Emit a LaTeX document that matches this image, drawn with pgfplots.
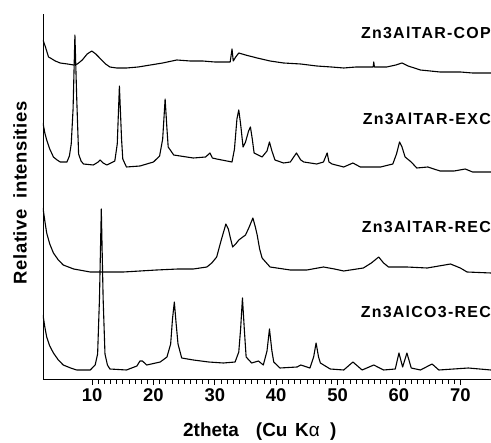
\documentclass[border=0pt]{standalone}
\usepackage{fontspec}
\setmainfont{Liberation Sans}
\newfontfamily\lsfont[LetterSpace=8]{Liberation Sans}
\newfontfamily\ylfont[LetterSpace=3]{Liberation Sans}
\usepackage{pgfplots}
\pgfplotsset{compat=1.18}
\newcommand\lf{\fontsize{18.5}{20}\selectfont\bfseries}
\newcommand\tf{\lsfont\fontsize{16}{18}\selectfont\bfseries}
\tikzset{trace/.style={black, line width=1.1bp, line join=round, mark=none}}
\begin{document}
\begin{tikzpicture}
\path[use as bounding box] (-43bp,-64bp) rectangle (448bp,379bp);
\begin{axis}[
  at={(0,0)}, anchor=south west,
  scale only axis, width=448bp, height=365bp,
  xmin=2, xmax=75, ymin=0, ymax=365,
  axis x line=bottom, axis y line=left,
  axis line style={-, line width=0.8bp},
  ytick=\empty,
  xtick={10,20,...,70},
  minor x tick num=9,
  tick align=outside,
  major tick length=6bp, minor tick length=4.5bp,
  every tick/.style={line width=0.7bp, black},
  /pgf/number format/assume math mode=true,
  xticklabel style={font=\lf},
  xlabel={2theta\hspace{0.9em}(Cu\hspace{0.4em}K{\mdseries α}\hspace{0.55em})},
  xlabel style={font=\fontsize{19}{22}\selectfont\bfseries, at={(axis description cs:0.484,-0.145)}, anchor=center},
  ylabel={\ylfont Relative\hspace{0.6em}intensities},
  ylabel style={font=\fontsize{18.5}{21}\selectfont\bfseries, at={(axis description cs:-0.0513,0.51)}, anchor=center},
]
% Zn3AlTAR-COP
\addplot[trace] coordinates {
(2,339) (2.4,332) (2.9,322) (3.2,321) (4,318) (4.8,316) (6,315) (7,314) (7.6,315) (8.4,319) (9.2,325) (9.95,328) (10.6,325) (11.4,320) (12.2,315) (12.9,312) (14,311) (15.6,311) (17.5,312) (19.5,314) (21.5,316) (23.8,319) (26,318) (28,318) (30,317) (32.5,317) (32.8,330) (33.0,318) (33.4,322) (33.9,326) (35,324) (36.9,321) (39,318) (41.2,316) (44,315) (46.6,313) (49,312) (51,311) (53,312) (55.8,312) (55.9,317) (56.0,312) (58,312) (59.5,314) (60.5,316) (61.5,313) (63.5,309) (66.7,307) (70,307) (72,306) (74.9,306) (75,306)
};
% Zn3AlTAR-EXC
\addplot[trace] coordinates {
(2,256) (2.3,246) (2.6,239) (3.1,230) (3.7,222) (4.3,219) (4.8,217) (5.9,217) (6.3,223) (6.6,235) (6.9,270) (7.2,344) (7.5,280) (7.8,225) (8.2,218) (8.6,215) (10.2,214) (11.0,217) (11.3,219) (11.8,216) (12.4,214) (13.7,218) (14.1,235) (14.45,293) (14.8,240) (15.0,220) (15.6,212) (17.8,213) (20,217) (21.0,223) (21.5,240) (21.9,280) (22.2,250) (22.4,232) (23.3,224) (25.4,222) (26.5,221) (28.5,222) (29.2,226) (29.6,221) (30.3,220) (32.8,217) (33.2,230) (33.6,260) (33.9,269) (34.2,255) (34.6,232) (35.0,237) (35.5,248) (35.8,252) (36.1,240) (36.4,226) (37.7,222) (38.5,228) (38.9,237) (39.3,228) (39.8,219) (41.2,216) (42.3,217) (43.3,226) (44.0,219) (44.5,217) (46.6,215) (47.7,217) (48.3,226) (48.6,217) (49.1,215) (51,212) (52.5,216) (53.7,212) (57,212) (59.0,215) (59.6,225) (60.1,237) (60.5,232) (61.0,222) (62,217) (62.9,211) (64.7,212) (66.7,208) (69,208) (70.8,210) (72,207) (75,207)
};
% Zn3AlTAR-REC
\addplot[trace] coordinates {
(2,171) (2.3,158) (2.6,146) (3.1,135) (3.7,126) (4.5,119) (5.3,114) (7,110) (9.7,107) (12,107) (15.1,107) (20.5,109) (24,110) (26.5,110) (28.7,112) (29.5,116) (30.3,122) (31.0,138) (31.8,155) (32.2,150) (32.5,142) (32.9,132) (33.4,135) (33.9,139) (35,144) (35.6,152) (36.2,161) (36.6,152) (36.9,144) (37.3,130) (37.7,121) (39,112) (42.3,109) (45,109) (47.7,112) (49.5,110) (51,108) (54.2,111) (55.5,116) (56.7,122) (57.5,116) (58.3,112) (61.3,112) (64.6,111) (66.5,113) (68.4,115) (70,111) (71.1,107) (75,106)
};
% Zn3AlCO3-REC
\addplot[trace] coordinates {
(2,64) (2.3,52) (2.6,42) (3.1,33) (3.7,26) (4.5,19) (5.3,14) (6.5,11) (7.5,9) (9.7,9) (10.5,14) (10.9,25) (11.2,80) (11.5,170) (11.8,80) (12.1,25) (12.5,14) (12.9,10) (15.6,9) (17.3,13) (17.8,18) (18.2,18) (18.9,14) (21.1,17) (22.2,22) (22.8,35) (23.1,60) (23.4,77) (23.7,55) (24.0,35) (24.6,21) (26.5,19) (29,17) (31.4,16) (33.3,17) (33.9,27) (34.2,50) (34.5,81) (34.8,50) (35.1,22) (36,16) (37.1,18) (37.9,14) (38.5,28) (38.9,50) (39.3,28) (39.6,17) (40.6,11) (43.4,12) (44,14) (45.5,11) (46.1,22) (46.5,36) (46.9,22) (47.2,16) (48.8,10) (51,9) (52.5,17) (54,9) (55.9,14) (57.5,9) (59.4,10) (60,26) (60.6,12) (61.3,26) (62,11) (63.5,9) (65.4,15) (66.5,9) (71.3,11) (75,9)
};
\node[anchor=east, inner sep=0pt, font=\tf] at (axis cs:75,346) {Zn3AlTAR-COP};
\node[anchor=east, inner sep=0pt, font=\tf] at (axis cs:75,260) {Zn3AlTAR-EXC};
\node[anchor=east, inner sep=0pt, font=\tf] at (axis cs:75,152) {Zn3AlTAR-REC};
\node[anchor=east, inner sep=0pt, font=\tf] at (axis cs:75,67) {Zn3AlCO3-REC};
\end{axis}
\end{tikzpicture}
\end{document}
